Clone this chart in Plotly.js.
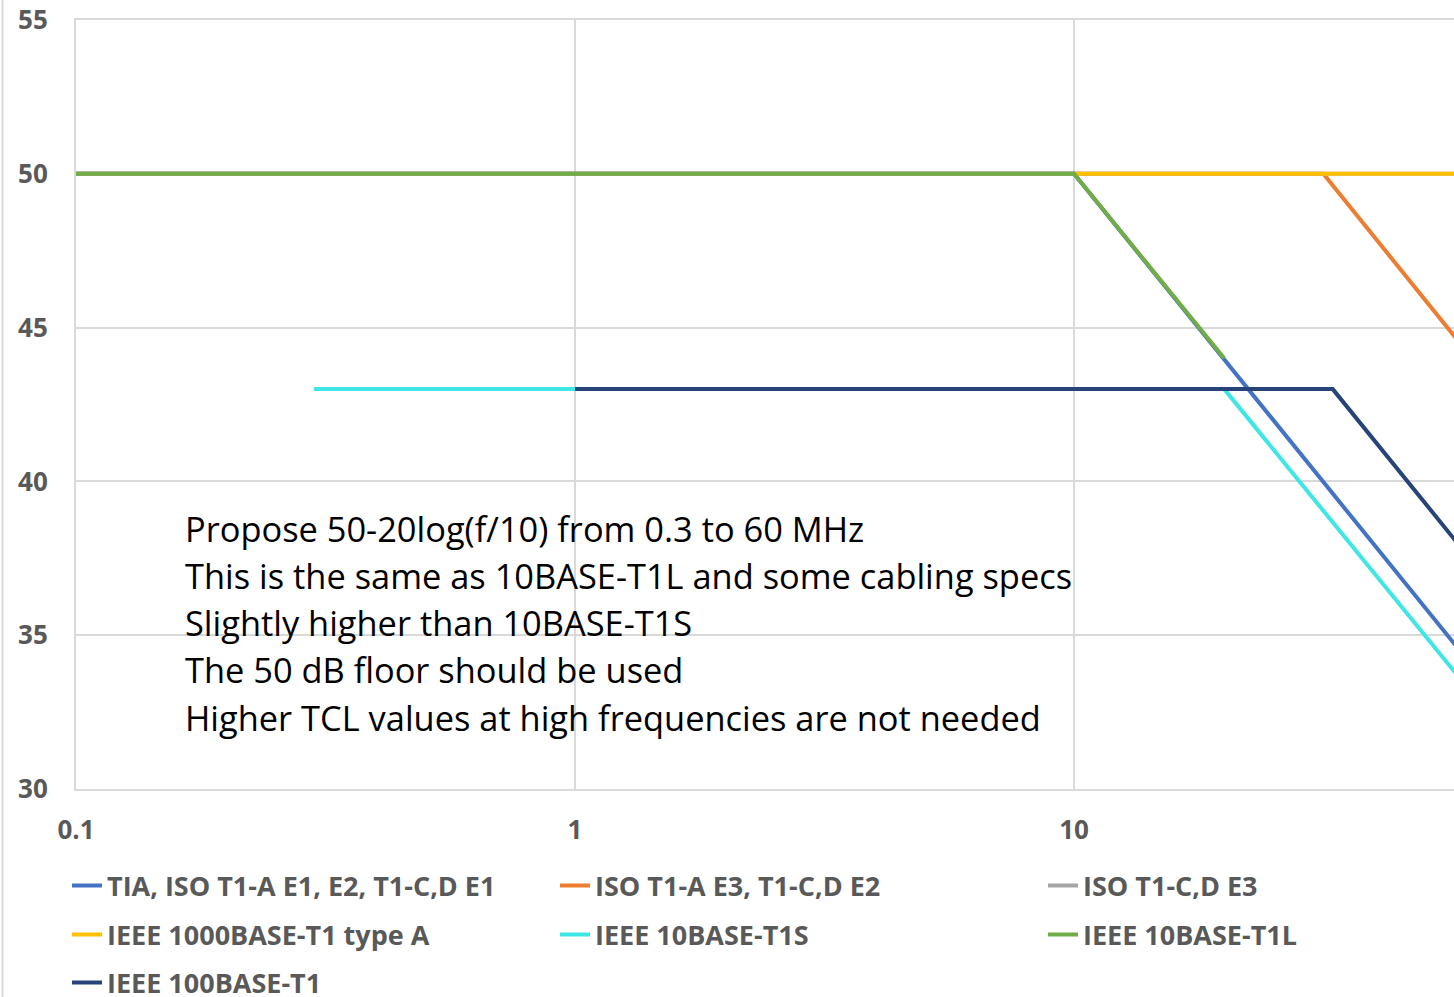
<!DOCTYPE html>
<html>
<head>
<meta charset="utf-8">
<script src="https://cdn.plot.ly/plotly-3.0.1.min.js"></script>
<style>
html,body{margin:0;padding:0;background:#fff;}
#chart{width:1454px;height:997px;}
</style>
</head>
<body>
<div id="chart"></div>
<script>
// ---- data (frequency in MHz, TCL in dB) ----
const seriesNames = [
  "TIA, ISO T1-A E1, E2, T1-C,D E1",
  "ISO T1-A E3, T1-C,D E2",
  "ISO T1-C,D E3",
  "IEEE 1000BASE-T1 type A",
  "IEEE 10BASE-T1S",
  "IEEE 10BASE-T1L",
  "IEEE 100BASE-T1"
];
const tiaFreq   = [0.1, 10, 60];
const tiaTcl    = [50, 50, 34.4];
const isoE3Freq = [0.1, 31.6, 60];
const isoE3Tcl  = [50, 50, 44.4];
const isoCDE3Freq = [0.1, 60];
const isoCDE3Tcl  = [50, 50];
const gigFreq   = [10, 60];
const gigTcl    = [50, 50];
const t1sFreq   = [0.3, 20, 60];
const t1sTcl    = [43, 43, 33.5];
const t1lFreq   = [0.1, 10, 20];
const t1lTcl    = [50, 50, 44];
const fastFreq  = [1, 33, 60];
const fastTcl   = [43, 43, 37.8];

const xTickVals = [0.1, 1, 10];
const xTickText = ["0.1", "1", "10"];

const noteLines = [
  "Propose 50-20log(f/10) from 0.3 to 60 MHz",
  "This is the same as 10BASE-T1L and some cabling specs",
  "Slightly higher than 10BASE-T1S",
  "The 50 dB floor should be used",
  "Higher TCL values at high frequencies are not needed"
];

// ---- styling ----
const colors = ["#4472C4", "#ED7D31", "#A5A5A5", "#FFC000", "#3FE6E6", "#70AD47", "#264478"];
const xs = [tiaFreq, isoE3Freq, isoCDE3Freq, gigFreq, t1sFreq, t1lFreq, fastFreq];
const ys = [tiaTcl, isoE3Tcl, isoCDE3Tcl, gigTcl, t1sTcl, t1lTcl, fastTcl];

const W = 1454, H = 997;
const mL = 76, mR = 0, mT = 20, mB = 208;
const pw = W - mL - mR, ph = H - mT - mB;
const px2x = p => (p - mL) / pw;
const py2y = p => (H - mB - p) / ph;

const tickFont = {family: "Open Sans", size: 26, color: "#595959", weight: "bold"};
const legFont  = {family: "Open Sans", size: 27, color: "#595959", weight: "bold"};

// legend slot positions (left edge px, center y px)
const legCols = [67, 555, 1043];
const legRows = [886, 935, 983];

const traces = seriesNames.map((name, i) => ({
  type: "scatter",
  mode: "lines",
  name: name,
  x: xs[i],
  y: ys[i],
  line: {color: colors[i], width: 4},
  legend: i === 0 ? "legend" : "legend" + (i + 1),
  hoverinfo: "x+y+name"
}));

const layout = {
  width: W, height: H,
  margin: {l: mL, r: mR, t: mT, b: mB, autoexpand: false},
  paper_bgcolor: "#ffffff",
  plot_bgcolor: "#ffffff",
  showlegend: true,
  xaxis: {
    type: "log",
    range: [-1, 1.7615],
    tickvals: xTickVals,
    ticktext: xTickText,
    ticks: "",
    showgrid: true, gridcolor: "#d9d9d9", gridwidth: 2,
    showline: true, linecolor: "#d9d9d9", linewidth: 2, mirror: true,
    zeroline: false,
    tickfont: tickFont,
    ticklabelstandoff: 17
  },
  yaxis: {
    range: [30, 55],
    tick0: 30, dtick: 5,
    ticks: "",
    showgrid: true, gridcolor: "#d9d9d9", gridwidth: 2,
    showline: true, linecolor: "#d9d9d9", linewidth: 2,
    zeroline: false,
    tickfont: tickFont,
    ticklabelstandoff: 21
  },
  shapes: [{
    type: "line", xref: "paper", yref: "paper",
    x0: px2x(2.5), x1: px2x(2.5), y0: py2y(997), y1: py2y(0),
    line: {color: "#d9d9d9", width: 2}
  }],
  annotations: noteLines.map((t, k) => ({
    text: t,
    xref: "paper", yref: "paper",
    x: px2x(184), y: py2y(528 + k * 47.3),
    xanchor: "left", yanchor: "middle",
    showarrow: false, align: "left", borderpad: 0,
    font: {family: "Open Sans", size: 34.4, color: "#000000"}
  }))
};

seriesNames.forEach((n, i) => {
  const key = i === 0 ? "legend" : "legend" + (i + 1);
  const col = i % 3, row = Math.floor(i / 3);
  layout[key] = {
    x: px2x(legCols[col]), y: py2y(legRows[row]),
    xanchor: "left", yanchor: "middle",
    orientation: "h",
    bgcolor: "rgba(0,0,0,0)", borderwidth: 0,
    font: legFont,
    itemclick: false, itemdoubleclick: false
  };
});

Plotly.newPlot("chart", traces, layout, {displayModeBar: false, staticPlot: false});
</script>
</body>
</html>
